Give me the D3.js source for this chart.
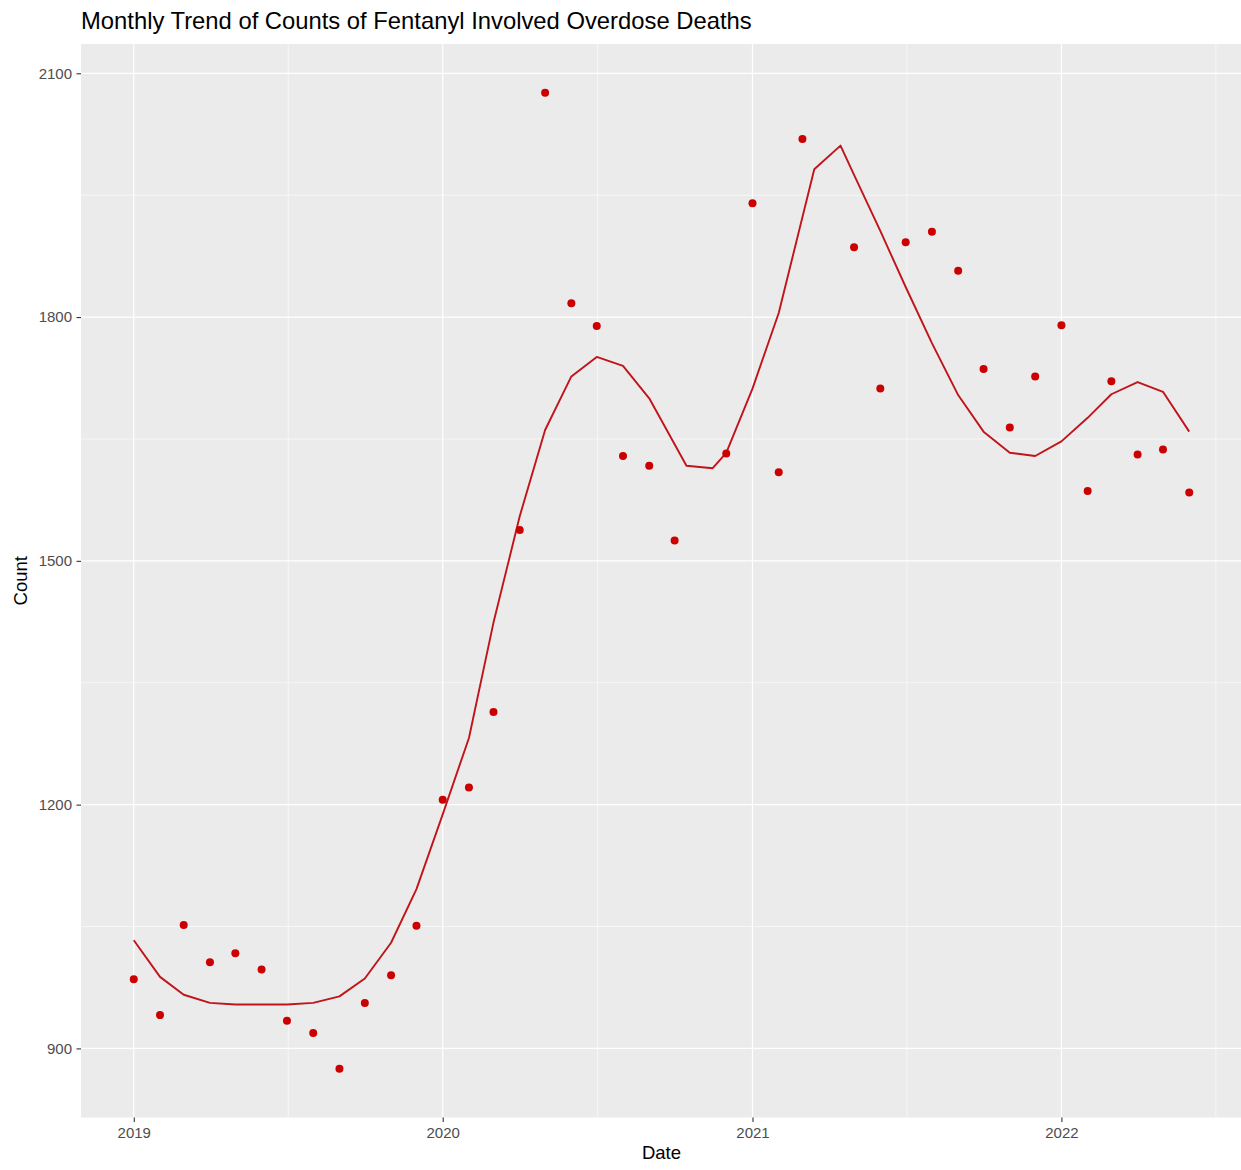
<!DOCTYPE html>
<html>
<head>
<meta charset="utf-8">
<script src="https://cdn.jsdelivr.net/npm/d3@7"></script>
<style>
  body { margin: 0; background: #ffffff; }
  text { font-family: "Liberation Sans", Arial, sans-serif; }
</style>
</head>
<body>
<div id="chart"></div>
<script>
// Monthly observed counts (2020-11 and 2021-04 are absent in the source)
var pointDates = [
  "2019-01-01", "2019-02-01", "2019-03-01", "2019-04-01", "2019-05-01", "2019-06-01",
  "2019-07-01", "2019-08-01", "2019-09-01", "2019-10-01", "2019-11-01", "2019-12-01",
  "2020-01-01", "2020-02-01", "2020-03-01", "2020-04-01", "2020-05-01", "2020-06-01",
  "2020-07-01", "2020-08-01", "2020-09-01", "2020-10-01", "2020-12-01",
  "2021-01-01", "2021-02-01", "2021-03-01", "2021-05-01", "2021-06-01",
  "2021-07-01", "2021-08-01", "2021-09-01", "2021-10-01", "2021-11-01", "2021-12-01",
  "2022-01-01", "2022-02-01", "2022-03-01", "2022-04-01", "2022-05-01", "2022-06-01"
];
var pointCounts = [
  985, 941, 1052, 1006, 1017, 997,
  934, 919, 875, 956, 990, 1051,
  1206, 1221, 1314, 1538, 2076, 1817,
  1789, 1629, 1617, 1525, 1632,
  1940, 1609, 2019, 1886, 1712,
  1892, 1905, 1857, 1736, 1664, 1727,
  1790, 1586, 1721, 1631, 1637, 1584
];

// Trend line
var trendDates = [
  "2019-01-01", "2019-02-01", "2019-03-01", "2019-04-01", "2019-05-01", "2019-06-01",
  "2019-07-01", "2019-08-01", "2019-09-01", "2019-10-01", "2019-11-01", "2019-12-01",
  "2020-01-01", "2020-02-01", "2020-03-01", "2020-04-01", "2020-05-01", "2020-06-01",
  "2020-07-01", "2020-08-01", "2020-09-01", "2020-10-15", "2020-11-15", "2020-12-01",
  "2021-01-01", "2021-02-01", "2021-03-15", "2021-04-15", "2021-05-01", "2021-06-01",
  "2021-07-01", "2021-08-01", "2021-09-01", "2021-10-01", "2021-11-01", "2021-12-01",
  "2022-01-01", "2022-02-01", "2022-03-01", "2022-04-01", "2022-05-01", "2022-06-01"
];
var trendCounts = [
  1033, 988, 966, 956, 954, 954,
  954, 956, 964, 986, 1030, 1096,
  1188, 1282, 1424, 1555, 1661, 1727,
  1751, 1740, 1700, 1617, 1614, 1633,
  1712, 1805, 1982, 2011, 1975, 1906,
  1837, 1768, 1704, 1659, 1633, 1629,
  1647, 1676, 1705, 1720, 1708, 1659
];

var yTicks = [900, 1200, 1500, 1800, 2100];
var xTickYears = [2019, 2020, 2021, 2022];

var titleText = "Monthly Trend of Counts of Fentanyl Involved Overdose Deaths";
var xTitle = "Date";
var yTitle = "Count";

// Set the SVG and panel parameters
var svgWidth = 1241;
var svgHeight = 1170;

var panel = {
  left: 81,
  right: 1242,
  top: 44,
  bottom: 1117.5
};

var parseDate = d3.timeParse("%Y-%m-%d");

var points = pointDates.map((d, i) => ({ date: parseDate(d), count: pointCounts[i] }));
var trend = trendDates.map((d, i) => ({ date: parseDate(d), count: trendCounts[i] }));

var svg = d3.select("#chart")
  .append("svg")
  .attr("width", svgWidth)
  .attr("height", svgHeight);

// Scales with ggplot-like 5% expansion
var xExtent = d3.extent(points, d => d.date);
var xPad = (xExtent[1] - xExtent[0]) * 0.05;
var xScale = d3.scaleTime()
  .domain([new Date(+xExtent[0] - xPad), new Date(+xExtent[1] + xPad)])
  .range([panel.left, panel.right]);

var yExtent = d3.extent(points, d => d.count);
var yPad = (yExtent[1] - yExtent[0]) * 0.05;
var yScale = d3.scaleLinear()
  .domain([yExtent[0] - yPad, yExtent[1] + yPad])
  .range([panel.bottom, panel.top]);

var xTicks = xTickYears.map(y => new Date(y, 0, 1));

// Minor breaks halfway between majors
var xMinor = [];
for (var i = 0; i < xTicks.length; i++) {
  var next = i < xTicks.length - 1 ? xTicks[i + 1] : new Date(+xTicks[i] + (xTicks[i] - xTicks[i - 1]));
  xMinor.push(new Date((+xTicks[i] + +next) / 2));
}
var yMinor = [];
for (var j = 0; j < yTicks.length - 1; j++) {
  yMinor.push((yTicks[j] + yTicks[j + 1]) / 2);
}

// Panel background
svg.append("rect")
  .attr("x", panel.left)
  .attr("y", panel.top)
  .attr("width", panel.right - panel.left)
  .attr("height", panel.bottom - panel.top)
  .attr("fill", "#ebebeb");

var grid = svg.append("g");

grid.selectAll(".yminor")
  .data(yMinor.filter(v => yScale(v) > panel.top && yScale(v) < panel.bottom))
  .enter()
  .append("line")
  .attr("x1", panel.left)
  .attr("x2", panel.right)
  .attr("y1", d => yScale(d))
  .attr("y2", d => yScale(d))
  .attr("stroke", "#ffffff")
  .attr("stroke-width", 0.6);

grid.selectAll(".xminor")
  .data(xMinor.filter(v => xScale(v) > panel.left && xScale(v) < panel.right))
  .enter()
  .append("line")
  .attr("x1", d => xScale(d))
  .attr("x2", d => xScale(d))
  .attr("y1", panel.top)
  .attr("y2", panel.bottom)
  .attr("stroke", "#ffffff")
  .attr("stroke-width", 0.6);

grid.selectAll(".ymajor")
  .data(yTicks)
  .enter()
  .append("line")
  .attr("x1", panel.left)
  .attr("x2", panel.right)
  .attr("y1", d => yScale(d))
  .attr("y2", d => yScale(d))
  .attr("stroke", "#ffffff")
  .attr("stroke-width", 1.2);

grid.selectAll(".xmajor")
  .data(xTicks)
  .enter()
  .append("line")
  .attr("x1", d => xScale(d))
  .attr("x2", d => xScale(d))
  .attr("y1", panel.top)
  .attr("y2", panel.bottom)
  .attr("stroke", "#ffffff")
  .attr("stroke-width", 1.2);

// Axes
var bottomAxis = d3.axisBottom(xScale)
  .tickValues(xTicks)
  .tickFormat(d3.timeFormat("%Y"))
  .tickSize(4.5)
  .tickPadding(5.5);

var leftAxis = d3.axisLeft(yScale)
  .tickValues(yTicks)
  .tickFormat(d3.format("d"))
  .tickSize(4.5)
  .tickPadding(4.5);

var xAxis = svg.append("g")
  .attr("transform", `translate(0, ${panel.bottom})`)
  .call(bottomAxis);

var yAxis = svg.append("g")
  .attr("transform", `translate(${panel.left}, 0)`)
  .call(leftAxis);

[xAxis, yAxis].forEach(ax => {
  ax.attr("font-size", null).attr("font-family", null);
  ax.select(".domain").remove();
  ax.selectAll(".tick line").attr("stroke", "#333333").attr("stroke-width", 1.1);
  ax.selectAll(".tick text")
    .attr("fill", "#4d4d4d")
    .style("font-size", "15px");
});

// Trend line
var line = d3.line()
  .x(d => xScale(d.date))
  .y(d => yScale(d.count));

svg.append("path")
  .datum(trend)
  .attr("d", line)
  .attr("fill", "none")
  .attr("stroke", "#c0141a")
  .attr("stroke-width", 1.9)
  .attr("stroke-linejoin", "round");

// Points
svg.selectAll(".pt")
  .data(points)
  .enter()
  .append("circle")
  .attr("cx", d => xScale(d.date))
  .attr("cy", d => yScale(d.count))
  .attr("r", 4)
  .attr("fill", "#cc0000");

// Titles
svg.append("text")
  .attr("x", panel.left)
  .attr("y", 29)
  .attr("fill", "#000000")
  .style("font-size", "23.8px")
  .text(titleText);

svg.append("text")
  .attr("x", (panel.left + panel.right) / 2)
  .attr("y", 1159)
  .attr("text-anchor", "middle")
  .attr("fill", "#000000")
  .style("font-size", "18.5px")
  .text(xTitle);

svg.append("text")
  .attr("transform", `translate(27, ${(panel.top + panel.bottom) / 2}) rotate(-90)`)
  .attr("text-anchor", "middle")
  .attr("fill", "#000000")
  .style("font-size", "18.5px")
  .text(yTitle);
</script>
</body>
</html>
